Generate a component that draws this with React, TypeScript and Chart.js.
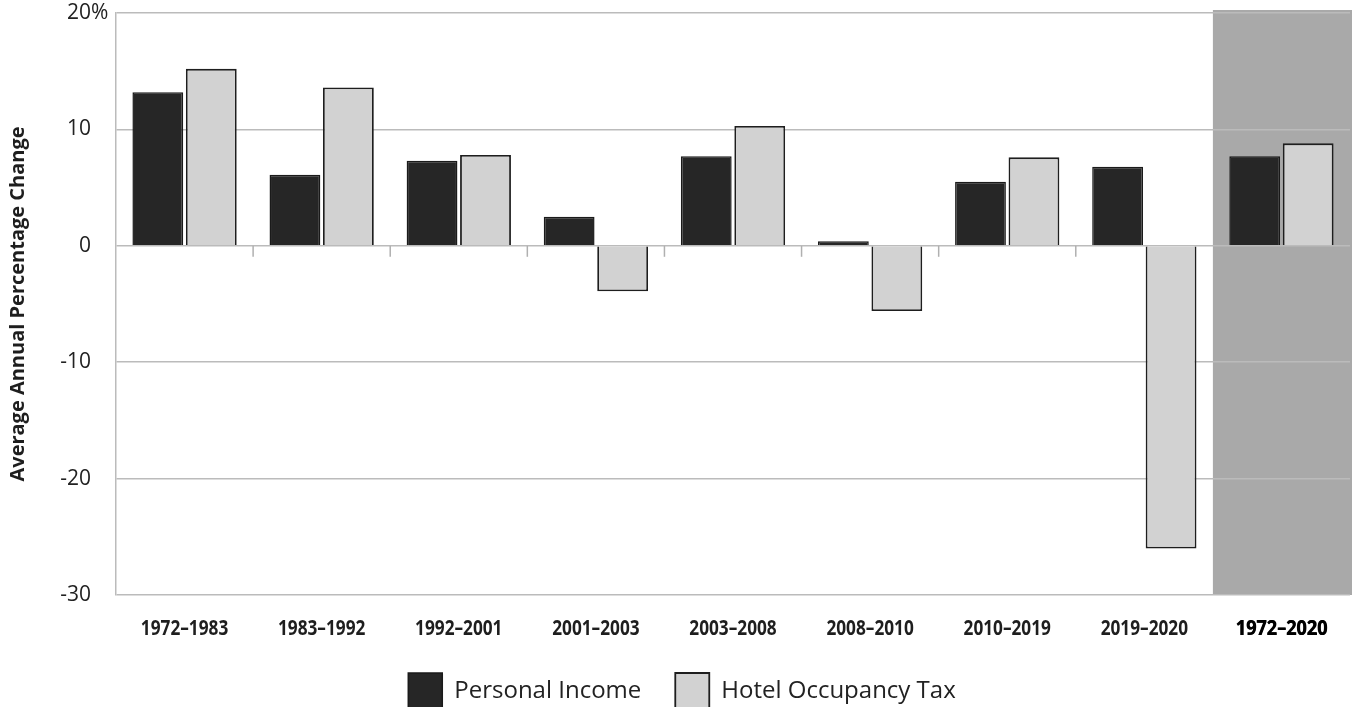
import React, { useEffect, useRef } from "react";
import { Chart, registerables } from "chart.js";

Chart.register(...registerables);

const categories = [
  "1972–1983",
  "1983–1992",
  "1992–2001",
  "2001–2003",
  "2003–2008",
  "2008–2010",
  "2010–2019",
  "2019–2020",
  "1972–2020",
];
const personalIncome = [13.2, 6.1, 7.3, 2.5, 7.7, 0.4, 5.5, 6.8, 7.7];
const hotelOccupancyTax = [15.2, 13.6, 7.8, -3.9, 10.3, -5.6, 7.6, -26.0, 8.8];
const yTickValues = [20, 10, 0, -10, -20, -30];
const highlightIndex = 8;

const GRID = "#bbbbbb";
const BODY_FONT = "'Open Sans', 'Noto Sans', sans-serif";

const decorPlugin = {
  id: "decor",
  beforeDraw(chart: any) {
    const { ctx, chartArea, scales } = chart;
    const x = scales.x;
    const c = x.getPixelForValue(highlightIndex);
    const prev = x.getPixelForValue(highlightIndex - 1);
    const left = (c + prev) / 2;
    ctx.save();
    ctx.fillStyle = "#a9a9a9";
    ctx.fillRect(left, chartArea.top - 3, chartArea.right - left + 2, chartArea.bottom - chartArea.top + 3);
    ctx.restore();
  },
  afterDatasetsDraw(chart: any) {
    const { ctx, scales, chartArea } = chart;
    const x = scales.x;
    const y = scales.y;
    const zy = y.getPixelForValue(0);
    ctx.save();
    ctx.strokeStyle = "#b0b0b0";
    ctx.lineWidth = 1.5;
    for (let i = 1; i < highlightIndex; i++) {
      const bx = (x.getPixelForValue(i - 1) + x.getPixelForValue(i)) / 2;
      ctx.beginPath();
      ctx.moveTo(bx, zy);
      ctx.lineTo(bx, zy + 11);
      ctx.stroke();
    }
    // percent sign after top tick label
    const ty = y.getPixelForValue(yTickValues[0]);
    ctx.font = `21px ${BODY_FONT}`;
    ctx.fillStyle = "#222";
    ctx.textAlign = "left";
    ctx.textBaseline = "middle";
    ctx.fillText("%", y.right - 25, ty);
    // condensed category labels
    ctx.font = `bold 21px ${BODY_FONT}`;
    ctx.textAlign = "center";
    ctx.textBaseline = "middle";
    const ly = chartArea.bottom + 34;
    categories.forEach((label, i) => {
      const cx = x.getPixelForValue(i);
      ctx.save();
      ctx.translate(cx, ly);
      ctx.scale(i === highlightIndex ? 0.86 : 0.82, 1);
      ctx.fillStyle = i === highlightIndex ? "#000" : "#1e1e1e";
      ctx.fillText(label, 0, 0);
      if (i === highlightIndex) ctx.fillText(label, 0.6, 0);
      ctx.restore();
    });
    ctx.restore();
  },
};

export default function App() {
  const ref = useRef<HTMLCanvasElement | null>(null);
  useEffect(() => {
    if (!ref.current) return;
    const chart = new Chart(ref.current, {
      type: "bar",
      data: {
        labels: categories,
        datasets: [
          {
            label: "Personal Income",
            data: personalIncome,
            backgroundColor: "#262626",
            borderColor: "#1a1a1a",
            borderWidth: 1.5,
            categoryPercentage: 0.78,
            barPercentage: 0.95,
          },
          {
            label: "Hotel Occupancy Tax",
            data: hotelOccupancyTax,
            backgroundColor: "#d2d2d2",
            borderColor: "#1e1e1e",
            borderWidth: 1.8,
            categoryPercentage: 0.78,
            barPercentage: 0.95,
          },
        ],
      },
      options: {
        animation: false,
        responsive: false,
        maintainAspectRatio: false,
        layout: { padding: { top: 13, right: 4, left: 14, bottom: 0 } },
        plugins: {
          title: { display: false },
          tooltip: { enabled: false },
          legend: {
            position: "bottom",
            labels: {
              boxWidth: 34,
              boxHeight: 36,
              padding: 34,
              color: "#222",
              font: { family: BODY_FONT, size: 24 },
            },
          },
        },
        scales: {
          x: {
            grid: { display: false },
            border: { display: false },
            ticks: {
              color: "rgba(0,0,0,0)",
              padding: 8,
              maxRotation: 0,
              autoSkip: false,
              font: { family: BODY_FONT, size: 17, weight: "bold" },
            },
            afterFit(scale: any) {
              scale.height = 44;
              scale.paddingLeft = 0;
              scale.paddingRight = 0;
            },
          },
          y: {
            min: -30,
            max: 20,
            afterBuildTicks(scale: any) {
              scale.ticks = yTickValues.map((v) => ({ value: v }));
            },
            grid: { color: GRID, lineWidth: 1.5, drawTicks: false },
            border: { display: true, color: GRID, width: 1.5 },
            ticks: {
              color: "#222",
              padding: 25,
              font: { family: BODY_FONT, size: 21 },
              callback: (v: any) => String(v),
            },
            title: {
              display: true,
              text: "Average Annual Percentage Change",
              color: "#1e1e1e",
              padding: { top: -8, bottom: 0 },
              font: { family: BODY_FONT, size: 20, weight: "bold" },
            },
            afterFit(scale: any) {
              scale.width = 102;
              scale.paddingTop = 0;
              scale.paddingBottom = 0;
            },
          },
        },
      },
      plugins: [decorPlugin],
    });
    return () => chart.destroy();
  }, []);
  return (
    <div style={{ position: "fixed", left: 0, top: 0, width: 1354, height: 719, background: "#fff" }}>
      <canvas ref={ref} width={1354} height={719} style={{ width: 1354, height: 719, display: "block" }} />
    </div>
  );
}
